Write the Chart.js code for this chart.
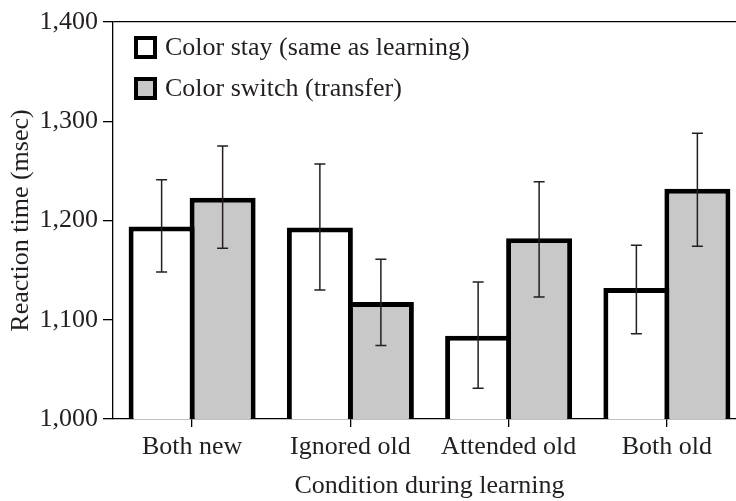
<!DOCTYPE html>
<html>
<head>
<meta charset="utf-8">
<script src="https://cdn.jsdelivr.net/npm/chart.js@4.4.0/dist/chart.umd.min.js"></script>
<style>
    html, body { margin: 0; padding: 0; background: #fff; overflow: hidden; }
    #wrap { width: 752px; height: 501px; }
</style>
</head>
<body>
<div id="wrap"><canvas id="rtChart"></canvas></div>
<script>
const conditions = ['Both new', 'Ignored old', 'Attended old', 'Both old'];

// color stay (same as learning)
const stayMeans = [1194, 1193, 1084, 1132];
const stayLow   = [1148, 1130, 1031, 1086];
const stayHigh  = [1241, 1257, 1138, 1175];

// color switch (transfer)
const switchMeans = [1223, 1118, 1182, 1232];
const switchLow   = [1172, 1074, 1123, 1174];
const switchHigh  = [1275, 1161, 1239, 1288];

const yTicks = [1000, 1100, 1200, 1300, 1400];

const ink = '#231f20';
const grey = '#c8c8c8';
const serif = "'Liberation Serif', 'Times New Roman', serif";

const errorBars = {
    id: 'errorBars',
    afterDatasetsDraw(chart) {
        const ctx = chart.ctx;
        const y = chart.scales.y;
        const ranges = [[stayLow, stayHigh], [switchLow, switchHigh]];
        ctx.save();
        ctx.strokeStyle = ink;
        ctx.lineWidth = 1.5;
        ranges.forEach((r, i) => {
            chart.getDatasetMeta(i).data.forEach((bar, j) => {
                const x = bar.x;
                const lo = y.getPixelForValue(r[0][j]);
                const hi = y.getPixelForValue(r[1][j]);
                ctx.beginPath();
                ctx.moveTo(x, lo); ctx.lineTo(x, hi);
                ctx.moveTo(x - 5.5, lo); ctx.lineTo(x + 5.5, lo);
                ctx.moveTo(x - 5.5, hi); ctx.lineTo(x + 5.5, hi);
                ctx.stroke();
            });
        });
        ctx.restore();
    }
};

// legend sits inside the plot, stacked
const boxLegend = {
    id: 'boxLegend',
    afterDraw(chart) {
        const ctx = chart.ctx;
        const a = chart.chartArea;
        ctx.save();
        ctx.font = '26px ' + serif;
        ctx.textBaseline = 'middle';
        chart.data.datasets.forEach((ds, i) => {
            const bx = a.left + 23, by = a.top + 16 + i * 41;
            ctx.fillStyle = ds.backgroundColor;
            ctx.fillRect(bx, by, 19, 19);
            ctx.lineWidth = 4;
            ctx.strokeStyle = '#000';
            ctx.strokeRect(bx, by, 19, 19);
            ctx.fillStyle = ink;
            ctx.fillText(ds.label, a.left + 52, by + 10);
        });
        ctx.restore();
    }
};

new Chart(document.getElementById('rtChart'), {
    type: 'bar',
    data: {
        labels: conditions,
        datasets: [
            {
                label: 'Color stay (same as learning)',
                data: stayMeans,
                backgroundColor: '#ffffff',
                borderColor: '#000',
                borderWidth: 5,
                borderSkipped: false,
                categoryPercentage: 0.771,
                barPercentage: 1.082
            },
            {
                label: 'Color switch (transfer)',
                data: switchMeans,
                backgroundColor: grey,
                borderColor: '#000',
                borderWidth: 5,
                borderSkipped: false,
                categoryPercentage: 0.771,
                barPercentage: 1.082
            }
        ]
    },
    options: {
        responsive: true,
        maintainAspectRatio: false,
        animation: false,
        layout: { padding: { top: 22, right: 6, left: 0, bottom: 0 } },
        plugins: {
            legend: { display: false },
            tooltip: { enabled: false }
        },
        scales: {
            x: {
                grid: {
                    drawOnChartArea: false,
                    offset: false,
                    tickLength: 8,
                    tickColor: '#000',
                    lineWidth: 1.3
                },
                border: { color: '#000', width: 1.3 },
                ticks: { color: ink, font: { family: serif, size: 26 }, padding: 5 },
                title: {
                    display: true,
                    text: 'Condition during learning',
                    color: ink,
                    font: { family: serif, size: 26, lineHeight: 1.0 },
                    padding: { top: 0, bottom: 2 }
                },
                afterFit(scale) { scale.height = 82; }
            },
            y: {
                min: 1000,
                max: 1400,
                afterBuildTicks(scale) { scale.ticks = yTicks.map(v => ({ value: v })); },
                grid: {
                    drawOnChartArea: true,
                    color: c => (c.tick && c.tick.value === 1400) ? '#000' : 'rgba(0,0,0,0)',
                    tickColor: '#000',
                    tickLength: 10,
                    lineWidth: 1.3
                },
                border: { color: '#000', width: 1.3 },
                ticks: {
                    color: ink,
                    font: { family: serif, size: 26 },
                    padding: 5,
                    callback: v => v.toLocaleString('en-US')
                },
                title: {
                    display: true,
                    text: 'Reaction time (msec)',
                    color: ink,
                    font: { family: serif, size: 26 },
                    padding: { top: 6, bottom: 0 }
                },
                afterFit(scale) { scale.width = 113; }
            }
        }
    },
    plugins: [errorBars, boxLegend]
});
</script>
</body>
</html>
